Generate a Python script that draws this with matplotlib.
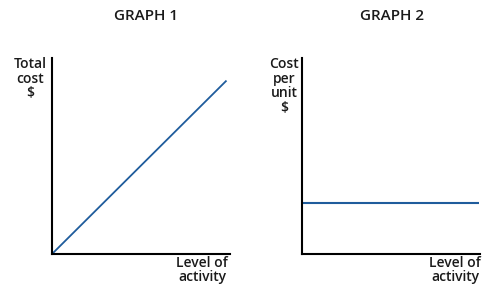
import matplotlib
matplotlib.use("Agg")
import matplotlib.pyplot as plt

# Data
activity = [0, 10]
total_cost = [0, 10]
unit_cost = [5, 5]

titles = ["GRAPH 1", "GRAPH 2"]
ylabels = ["Total\ncost\n$", "Cost\nper\nunit\n$"]
xlabel = "Level of\nactivity"

LINE_COLOR = "#1f5c9c"
FONT = ["Open Sans", "DejaVu Sans"]
W, H = 500, 298

fig = plt.figure(figsize=(5, 2.98), dpi=100)

def px_axes(left, top, right, bottom):
    return fig.add_axes([left / W, 1 - bottom / H, (right - left) / W, (bottom - top) / H])

ax1 = px_axes(52, 58, 230, 254)
ax2 = px_axes(302, 58, 480, 254)

ax1.plot(activity, total_cost, color=LINE_COLOR, lw=1.3, solid_capstyle="butt", clip_on=False)
ax1.set_xlim(0, 10.2)
ax1.set_ylim(0, 11.3)

ax2.plot(activity, unit_cost, color=LINE_COLOR, lw=1.5, solid_capstyle="butt", clip_on=False)
ax2.set_xlim(0, 10.05)
ax2.set_ylim(0, 19.2)

for ax in (ax1, ax2):
    for s in ("top", "right"):
        ax.spines[s].set_visible(False)
    for s in ("left", "bottom"):
        ax.spines[s].set_linewidth(1.5)
        ax.spines[s].set_color("black")
    ax.set_xticks([])
    ax.set_yticks([])
    ax.patch.set_alpha(0)

def ftext(x, y, s, **kw):
    fig.text(x / W, 1 - y / H, s, family=FONT, weight="semibold", color="#1a1a1a", **kw)

ftext(146, 16, titles[0], fontsize=11, ha="center", va="center")
ftext(392, 16, titles[1], fontsize=11, ha="center", va="center")

ftext(47, 57, ylabels[0], fontsize=10, ha="right", va="top", multialignment="center", linespacing=1.05)
ftext(284, 57, ylabels[1], fontsize=10, ha="center", va="top", multialignment="center", linespacing=1.05)

ftext(228, 256, xlabel, fontsize=10, ha="right", va="top", multialignment="center", linespacing=1.0)
ftext(481, 256, xlabel, fontsize=10, ha="right", va="top", multialignment="center", linespacing=1.0)

fig.savefig("out.png", dpi=100)
